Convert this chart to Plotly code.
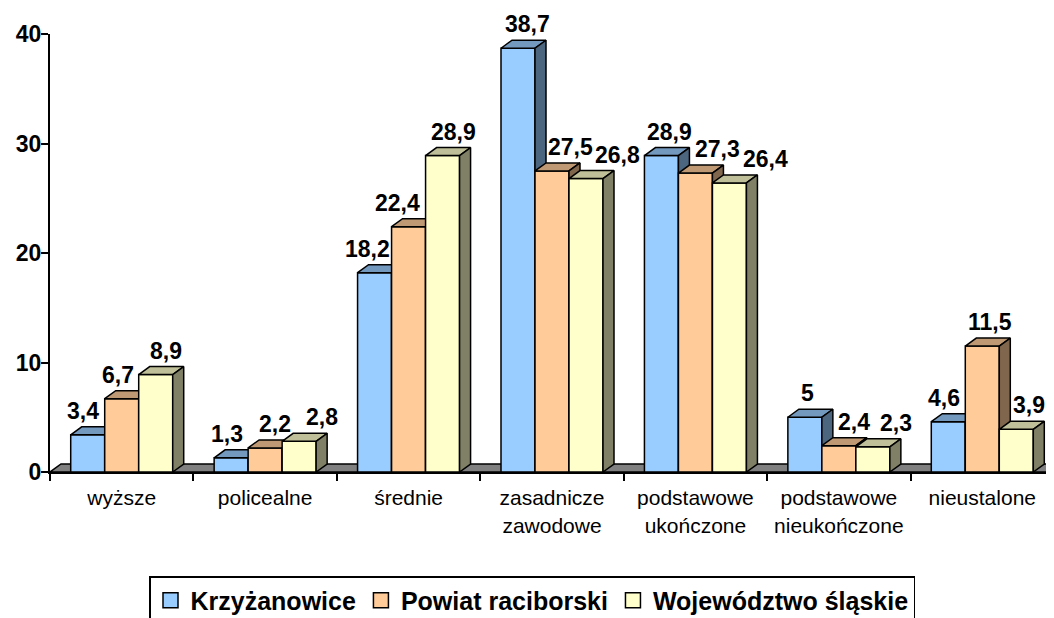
import plotly.graph_objects as go

# ---------------- data ----------------
categories = ["wyższe", "policealne", "średnie", "zasadnicze<br>zawodowe",
              "podstawowe<br>ukończone", "podstawowe<br>nieukończone", "nieustalone"]
series_names = ["Krzyżanowice", "Powiat raciborski", "Województwo śląskie"]
krzyzanowice = [3.4, 1.3, 18.2, 38.7, 28.9, 5, 4.6]
powiat = [6.7, 2.2, 22.4, 27.5, 27.3, 2.4, 11.5]
wojewodztwo = [8.9, 2.8, 28.9, 26.8, 26.4, 2.3, 3.9]
y_ticks = [0, 10, 20, 30, 40]

# ---------------- style ----------------
PAGE_OFF = 8                    # default body margin of the html page
W, H = 1054 - PAGE_OFF, 618 - PAGE_OFF
PLOT_L, PLOT_R, PLOT_T, PLOT_B = 50, 1054, 34, 472   # plot area on the page
M_L = PLOT_L - PAGE_OFF
M_T = PLOT_T - PAGE_OFF
M_R = 1054 - PLOT_R
M_B = H - (PLOT_B - PAGE_OFF)
LEGEND_TOP = 576 - PAGE_OFF
Y_MAX = 40
front_cols = ["#99CCFF", "#FFCC99", "#FFFFCC"]
top_cols = ["#7399BF", "#BF9973", "#BFBF99"]
side_cols = ["#4D6680", "#80664D", "#808066"]
FLOOR_COL = "#808080"
FONT = "Liberation Sans, Arial, sans-serif"
# label horizontal nudges in px (relative to front-face centre), as laid out in the original
label_nudge = [[-5, -4, -7.5, 9, 8.5, 3, -4.3],
               [-3.5, 9.5, -11, 18, 21.8, 15.5, 8],
               [10, 23, 10.7, 31, 36, 23.5, 13]]

n_cat = len(categories)
plot_w = W - M_L - M_R
plot_h = H - M_T - M_B
px_x = plot_w / n_cat          # px per category unit
px_y = plot_h / Y_MAX          # px per value unit
DX = 11 / px_x                 # depth offset in x units
DY = 8 / px_y                  # depth offset in y units
BW = 34 / px_x                 # bar width in x units
OFF = (1 - 3 * BW) / 2

values = [krzyzanowice, powiat, wojewodztwo]

fig = go.Figure()

# floor
fx = [0, n_cat + 1, n_cat + 1 + DX, DX, 0]
fy = [0, 0, DY, DY, 0]
fig.add_trace(go.Scatter(x=fx, y=fy, mode="lines", fill="toself", fillcolor=FLOOR_COL,
                         line=dict(color="black", width=1.5), hoverinfo="skip", showlegend=False))

def poly_trace(xs, ys, color):
    return go.Scatter(x=xs, y=ys, mode="lines", fill="toself", fillcolor=color,
                      line=dict(color="black", width=1.5), hoverinfo="skip", showlegend=False)

annotations = []
for k, vals in enumerate(values):
    fxs, fys, txs, tys, sxs, sys_ = [], [], [], [], [], []
    for i, v in enumerate(vals):
        x0 = i + OFF + k * BW
        x1 = x0 + BW
        # front
        fxs += [x0, x1, x1, x0, x0, None]
        fys += [0, 0, v, v, 0, None]
        # top
        txs += [x0, x1, x1 + DX, x0 + DX, x0, None]
        tys += [v, v, v + DY, v + DY, v, None]
        # side
        sxs += [x1, x1 + DX, x1 + DX, x1, x1, None]
        sys_ += [0, DY, v + DY, v, 0, None]
        label = f"{v:g}".replace(".", ",")
        annotations.append(dict(
            x=(x0 + x1) / 2 + label_nudge[k][i] / px_x, y=v + DY,
            xref="x", yref="y", text=label, showarrow=False,
            yanchor="bottom", xanchor="center", yshift=1,
            font=dict(family=FONT, size=23, color="black", weight="bold")))
    fig.add_trace(poly_trace(fxs, fys, front_cols[k]))
    fig.add_trace(poly_trace(txs, tys, top_cols[k]))
    fig.add_trace(poly_trace(sxs, sys_, side_cols[k]))

# legend entries
for k, name in enumerate(series_names):
    fig.add_trace(go.Scatter(x=[None], y=[None], mode="markers", name=name,
                             marker=dict(symbol="square", size=15, color=front_cols[k],
                                         line=dict(color="black", width=1.5))))

fig.update_layout(
    width=W, height=H, autosize=False,
    margin=dict(l=M_L, r=M_R, t=M_T, b=M_B, autoexpand=False),
    paper_bgcolor="white", plot_bgcolor="white",
    font=dict(family=FONT, color="black"),
    showlegend=True,
    legend=dict(orientation="h", x=(532 - PLOT_L) / plot_w, xanchor="center",
                y=-(LEGEND_TOP - (H - M_B)) / plot_h, yanchor="top",
                bordercolor="black", borderwidth=1.5, bgcolor="white",
                font=dict(family=FONT, size=25, color="black", weight="bold"),
                itemclick=False, itemdoubleclick=False),
    annotations=annotations,
    hovermode=False,
)
fig.update_xaxes(range=[0, n_cat], showgrid=False, zeroline=False,
                 showline=True, linecolor="black", linewidth=2,
                 tickmode="array", tickvals=[i + 0.5 for i in range(n_cat)],
                 ticktext=categories, ticks="", ticklabelstandoff=6,
                 tickfont=dict(family=FONT, size=21, color="black"),
                 minor=dict(tickmode="array", tickvals=list(range(n_cat + 1)),
                            ticks="outside", ticklen=7, tickwidth=2, tickcolor="black"),
                 fixedrange=True)
fig.update_yaxes(range=[0, Y_MAX], showgrid=False, zeroline=False,
                 showline=True, linecolor="black", linewidth=2,
                 tickmode="array", tickvals=y_ticks, ticks="outside", ticklen=7,
                 tickwidth=2, tickcolor="black", ticklabelstandoff=-5,
                 tickfont=dict(family=FONT, size=23, color="black", weight="bold"),
                 fixedrange=True)

fig.write_html("out.html")
